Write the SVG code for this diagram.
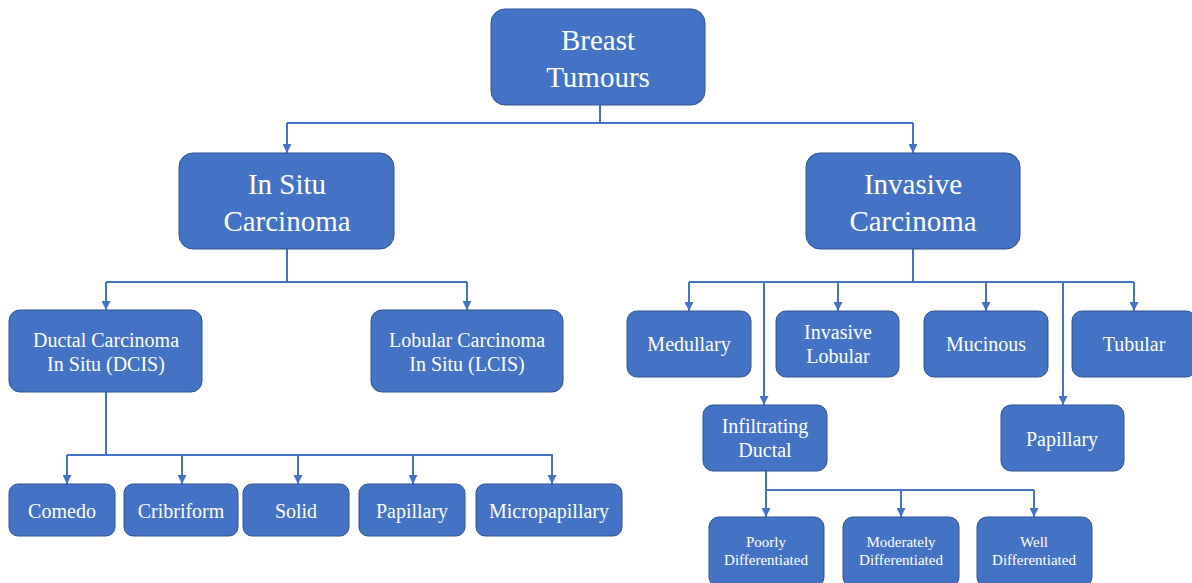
<svg xmlns="http://www.w3.org/2000/svg" width="1192" height="583" viewBox="0 0 1192 583">
<defs>
<marker id="ah" markerWidth="9" markerHeight="9" refX="9" refY="4.5" orient="auto" markerUnits="userSpaceOnUse" viewBox="0 0 9 9">
<path d="M0,0 L9,4.5 L0,9 Z" fill="#4472C4"/>
</marker>
<style>
.b{fill:#4472C4;stroke:#2F528F;stroke-width:1}
.t{fill:#fff;font-family:"Liberation Serif","Times New Roman",serif;text-anchor:middle}
.l{font-size:29px}
.m{font-size:20px}
.s{font-size:15px}
.c{fill:none;stroke:#4472C4;stroke-width:2}
.a{fill:none;stroke:#4472C4;stroke-width:2;marker-end:url(#ah)}
</style>
</defs>
<rect width="1192" height="583" fill="#fff"/>
<g id="connectors">
<path class="c" d="M600,105 V123 M287,123 H913 M287,249 V282 M106,282 H467 M913,249 V282 M689,282 H1134 M106,392 V455 M67,455 H553 M766,471 V490 M766,490 H1034"/>
<path class="a" d="M287,123 V153"/>
<path class="a" d="M913,123 V153"/>
<path class="a" d="M106,282 V310"/>
<path class="a" d="M467,282 V310"/>
<path class="a" d="M689,282 V311"/>
<path class="a" d="M838,282 V311"/>
<path class="a" d="M986,282 V311"/>
<path class="a" d="M1134,282 V311"/>
<path class="a" d="M764,282 V405"/>
<path class="a" d="M1063,282 V405"/>
<path class="a" d="M67,455 V484"/>
<path class="a" d="M182,455 V484"/>
<path class="a" d="M298,455 V484"/>
<path class="a" d="M413,455 V484"/>
<path class="a" d="M552,455 V484"/>
<path class="a" d="M766,490 V517"/>
<path class="a" d="M901,490 V517"/>
<path class="a" d="M1034,490 V517"/>
</g>
<g id="breast-tumours"><rect class="b" x="491" y="9" width="214" height="96" rx="14"/><text class="t l" x="598" y="50">Breast</text><text class="t l" x="598" y="87">Tumours</text></g>
<g id="in-situ"><rect class="b" x="179" y="153" width="215" height="96" rx="14"/><text class="t l" x="287" y="194">In Situ</text><text class="t l" x="287" y="231">Carcinoma</text></g>
<g id="invasive"><rect class="b" x="806" y="153" width="214" height="96" rx="14"/><text class="t l" x="913" y="194">Invasive</text><text class="t l" x="913" y="231">Carcinoma</text></g>
<g id="dcis"><rect class="b" x="9" y="310" width="193" height="82" rx="11"/><text class="t m" x="106" y="347">Ductal Carcinoma</text><text class="t m" x="106" y="371">In Situ (DCIS)</text></g>
<g id="lcis"><rect class="b" x="371" y="310" width="192" height="82" rx="11"/><text class="t m" x="467" y="347">Lobular Carcinoma</text><text class="t m" x="467" y="371">In Situ (LCIS)</text></g>
<g id="comedo"><rect class="b" x="9" y="484" width="106" height="52" rx="9"/><text class="t m" x="62" y="518">Comedo</text></g>
<g id="cribriform"><rect class="b" x="124" y="484" width="114" height="52" rx="9"/><text class="t m" x="181" y="518">Cribriform</text></g>
<g id="solid"><rect class="b" x="243" y="484" width="106" height="52" rx="9"/><text class="t m" x="296" y="518">Solid</text></g>
<g id="papillary-dcis"><rect class="b" x="359" y="484" width="106" height="52" rx="9"/><text class="t m" x="412" y="518">Papillary</text></g>
<g id="micropapillary"><rect class="b" x="476" y="484" width="146" height="52" rx="9"/><text class="t m" x="549" y="518">Micropapillary</text></g>
<g id="medullary"><rect class="b" x="627" y="311" width="124" height="66" rx="10"/><text class="t m" x="689" y="351">Medullary</text></g>
<g id="invasive-lobular"><rect class="b" x="776" y="311" width="123" height="66" rx="10"/><text class="t m" x="838" y="339">Invasive</text><text class="t m" x="838" y="363">Lobular</text></g>
<g id="mucinous"><rect class="b" x="924" y="311" width="124" height="66" rx="10"/><text class="t m" x="986" y="351">Mucinous</text></g>
<g id="tubular"><rect class="b" x="1072" y="311" width="124" height="66" rx="10"/><text class="t m" x="1134" y="351">Tubular</text></g>
<g id="infiltrating-ductal"><rect class="b" x="703" y="405" width="124" height="66" rx="10"/><text class="t m" x="765" y="433">Infiltrating</text><text class="t m" x="765" y="457">Ductal</text></g>
<g id="papillary-inv"><rect class="b" x="1001" y="405" width="123" height="66" rx="10"/><text class="t m" x="1062" y="446">Papillary</text></g>
<g id="poorly"><rect class="b" x="709" y="517" width="115" height="70" rx="10"/><text class="t s" x="766" y="547">Poorly</text><text class="t s" x="766" y="565">Differentiated</text></g>
<g id="moderately"><rect class="b" x="843" y="517" width="116" height="70" rx="10"/><text class="t s" x="901" y="547">Moderately</text><text class="t s" x="901" y="565">Differentiated</text></g>
<g id="well"><rect class="b" x="977" y="517" width="115" height="70" rx="10"/><text class="t s" x="1034" y="547">Well</text><text class="t s" x="1034" y="565">Differentiated</text></g>
</svg>
